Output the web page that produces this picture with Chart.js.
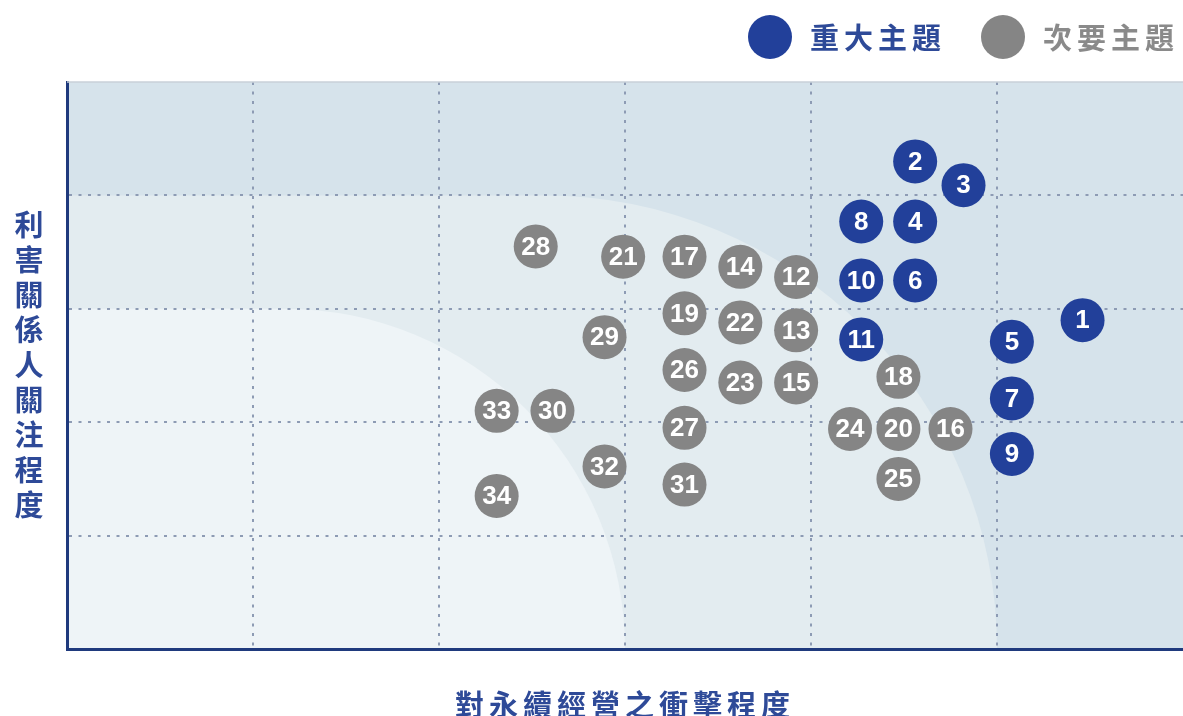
<!DOCTYPE html>
<html>
<head>
<meta charset="utf-8">
<script src="https://cdn.jsdelivr.net/npm/chart.js@4/dist/chart.umd.min.js"></script>
<style>
  html, body { margin: 0; padding: 0; background: #fff; }
  #wrap { position: relative; width: 1183px; height: 716px; overflow: hidden; }
  #chart { position: absolute; left: 0; top: 0; }
  .dot { position: absolute; width: 44px; height: 44px; border-radius: 50%; }
  .leg { position: absolute; font: bold 29px "Noto Sans CJK TC", "Noto Sans CJK SC", sans-serif; letter-spacing: 5px; line-height: 36px; white-space: nowrap; }
  #ytitle { position: absolute; left: 12px; top: 206px; width: 34px; font: bold 29px "Noto Sans CJK TC", sans-serif; line-height: 35px; color: #2e4a98; text-align: center; }
  #xtitle { position: absolute; left: 0; width: 1250px; top: 682px; font: bold 29px "Noto Sans CJK TC", sans-serif; letter-spacing: 5px; color: #2e4a98; text-align: center; }
</style>
</head>
<body>
<div id="wrap">
  <canvas id="chart" width="1183" height="716"></canvas>
  <div class="dot" style="left:748px;top:15px;background:#22409a"></div>
  <div class="leg" style="left:810px;top:18px;color:#2e4a98">重大主題</div>
  <div class="dot" style="left:981px;top:15px;background:#858585"></div>
  <div class="leg" style="left:1043px;top:18px;color:#8a8a8a">次要主題</div>
  <div id="ytitle"></div>
  <div id="xtitle"></div>
</div>
<script>
const xTitle = '對永續經營之衝擊程度';
const yTitle = '利害關係人關注程度';
const legendLabels = ['重大主題', '次要主題'];

// major topics (blue)
const majorIds = [1, 2, 3, 4, 5, 6, 7, 8, 9, 10, 11];
const majorX = [5.46, 4.56, 4.82, 4.56, 5.08, 4.56, 5.08, 4.27, 5.08, 4.27, 4.27];
const majorY = [2.90, 4.30, 4.09, 3.77, 2.71, 3.25, 2.21, 3.77, 1.72, 3.25, 2.73];

// minor topics (gray)
const minorIds = [12, 13, 14, 15, 16, 17, 18, 19, 20, 21, 22, 23, 24, 25, 26, 27, 28, 29, 30, 31, 32, 33, 34];
const minorX = [3.92, 3.92, 3.62, 3.92, 4.75, 3.32, 4.47, 3.32, 4.47, 2.99, 3.62, 3.62, 4.21, 4.47, 3.32, 3.32, 2.52, 2.89, 2.61, 3.32, 2.89, 2.31, 2.31];
const minorY = [3.28, 2.81, 3.37, 2.35, 1.94, 3.46, 2.40, 2.96, 1.94, 3.46, 2.88, 2.35, 1.94, 1.50, 2.46, 1.95, 3.55, 2.75, 2.10, 1.45, 1.61, 2.10, 1.35];

const xTicks = [0, 1, 2, 3, 4, 5, 6];
const yTicks = [0, 1, 2, 3, 4, 5];

document.getElementById('xtitle').textContent = xTitle;
document.getElementById('ytitle').innerHTML = yTitle.split('').join('<br>');

function toPoints(xs, ys) {
    return xs.map((x, i) => ({ x: x, y: ys[i] }));
}

// shaded zones behind the grid: flat top, then a quarter circle down to the x axis
const zonesPlugin = {
    id: 'zones',
    beforeDraw(chart) {
        const ctx = chart.ctx;
        const a = chart.chartArea;
        const xs = chart.scales.x, ys = chart.scales.y;
        ctx.save();
        ctx.fillStyle = '#d6e3eb';
        ctx.fillRect(a.left, a.top, a.right - a.left, a.bottom - a.top);
        ctx.beginPath();
        ctx.rect(a.left, a.top, a.right - a.left, a.bottom - a.top);
        ctx.clip();
        const zones = [[4, 5, '#e3ecf0'], [3, 3, '#eef4f7']];
        zones.forEach(z => {
            const r = ys.getPixelForValue(0) - ys.getPixelForValue(z[0]);
            const cx = xs.getPixelForValue(z[1]) - r;
            const by = ys.getPixelForValue(0);
            ctx.fillStyle = z[2];
            ctx.beginPath();
            ctx.moveTo(a.left, by);
            ctx.lineTo(a.left, by - r);
            ctx.lineTo(cx, by - r);
            ctx.arc(cx, by, r, -Math.PI / 2, 0);
            ctx.closePath();
            ctx.fill();
        });
        ctx.restore();
    },
    beforeDatasetsDraw(chart) {
        const ctx = chart.ctx;
        const a = chart.chartArea;
        ctx.save();
        ctx.strokeStyle = '#c9d0d8';
        ctx.lineWidth = 1.5;
        ctx.beginPath();
        ctx.moveTo(a.left, a.top);
        ctx.lineTo(a.right, a.top);
        ctx.stroke();
        ctx.restore();
    }
};

const numberPlugin = {
    id: 'numbers',
    afterDatasetsDraw(chart) {
        const ctx = chart.ctx;
        ctx.save();
        ctx.fillStyle = '#ffffff';
        ctx.font = 'bold 26px "Liberation Sans", Arial, sans-serif';
        ctx.textAlign = 'center';
        ctx.textBaseline = 'middle';
        chart.data.datasets.forEach((ds, i) => {
            chart.getDatasetMeta(i).data.forEach((pt, j) => {
                ctx.fillText(String(ds.ids[j]), pt.x, pt.y + 1);
            });
        });
        ctx.restore();
    }
};

const gridColor = ctx => (ctx.tick && (ctx.index === 0 || ctx.index === ctx.scale.ticks.length - 1)) ? 'rgba(0,0,0,0)' : '#8d9bb4';

const ctxChart = document.getElementById('chart').getContext('2d');
const chart = new Chart(ctxChart, {
    type: 'scatter',
    data: {
        datasets: [{
            label: legendLabels[0],
            ids: majorIds,
            data: toPoints(majorX, majorY),
            backgroundColor: '#22409a',
            pointRadius: 22,
            pointHoverRadius: 22,
            borderWidth: 0
        }, {
            label: legendLabels[1],
            ids: minorIds,
            data: toPoints(minorX, minorY),
            backgroundColor: '#858585',
            pointRadius: 22,
            pointHoverRadius: 22,
            borderWidth: 0
        }]
    },
    options: {
        responsive: false,
        animation: false,
        devicePixelRatio: 1,
        layout: { autoPadding: false, padding: { left: 67, top: 82, right: 0, bottom: 67 } },
        plugins: { legend: { display: false }, tooltip: { enabled: false } },
        scales: {
            x: {
                type: 'linear', min: 0, max: 6,
                afterBuildTicks: s => { s.ticks = xTicks.map(v => ({ value: v })); },
                ticks: { display: false },
                grid: { color: gridColor, lineWidth: 2, drawTicks: false, tickLength: 0 },
                border: { display: true, color: '#1f3a7d', width: 3, dash: [3, 6.5] }
            },
            y: {
                type: 'linear', min: 0, max: 5,
                afterBuildTicks: s => { s.ticks = yTicks.map(v => ({ value: v })); },
                ticks: { display: false },
                grid: { color: gridColor, lineWidth: 2, drawTicks: false, tickLength: 0 },
                border: { display: true, color: '#1f3a7d', width: 3, dash: [3, 6.5] }
            }
        }
    },
    plugins: [zonesPlugin, numberPlugin]
});
</script>
</body>
</html>
